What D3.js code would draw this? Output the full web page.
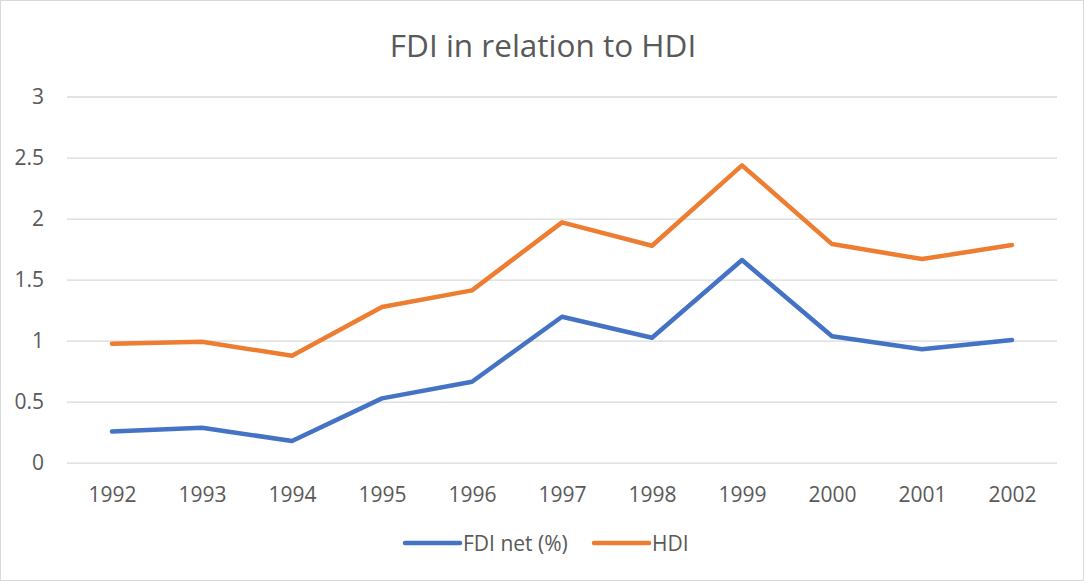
<!DOCTYPE html>
<html>
<head>
<meta charset="utf-8">
<script src="https://cdn.jsdelivr.net/npm/d3@7"></script>
<style>
  body { margin: 0; background: #fff; }
  text { font-family: "Open Sans", Lato, sans-serif; fill: #595959; }
</style>
</head>
<body>
<div id="chart"></div>
<script>
// data
const years = ["1992", "1993", "1994", "1995", "1996", "1997", "1998", "1999", "2000", "2001", "2002"]
const fdiNet = [0.255, 0.287, 0.178, 0.527, 0.663, 1.196, 1.024, 1.66, 1.036, 0.929, 1.005]
const hdi = [0.975, 0.991, 0.876, 1.276, 1.412, 1.969, 1.777, 2.436, 1.791, 1.668, 1.783]
const yTicks = [0, 0.5, 1, 1.5, 2, 2.5, 3]

const series = [
    { name: "FDI net (%)", values: fdiNet, color: "#4472C4" },
    { name: "HDI", values: hdi, color: "#ED7D31" }
]

const width = 1084, height = 581
const plot = { left: 67, right: 1057, top: 96.5, bottom: 462.7 }

const svg = d3.select("#chart").append("svg")
    .attr("width", width)
    .attr("height", height)

// outer chart border
svg.append("rect")
    .attr("x", 0.5).attr("y", 0.5)
    .attr("width", width - 1).attr("height", height - 1)
    .attr("fill", "#fff")
    .attr("stroke", "#d9d9d9")

const x = d3.scalePoint().domain(years).range([plot.left, plot.right]).padding(0.5)
const y = d3.scaleLinear().domain([0, 3]).range([plot.bottom, plot.top])

// title
svg.append("text")
    .attr("x", 543).attr("y", 57)
    .attr("text-anchor", "middle")
    .style("font-size", "31.5px")
    .text("FDI in relation to HDI")

// gridlines + y labels
const yAxis = svg.append("g")
    .attr("transform", "translate(" + plot.left + ",0)")
    .call(d3.axisLeft(y).tickValues(yTicks).tickSize(-(plot.right - plot.left)).tickPadding(23).tickFormat(d3.format("")))
yAxis.select(".domain").remove()
yAxis.selectAll("line").attr("stroke", "#d9d9d9").attr("stroke-width", 1.3)
yAxis.selectAll("text").style("font-size", "21px").attr("fill", "#595959")

// x labels
const xAxis = svg.append("g")
    .attr("transform", "translate(0," + plot.bottom + ")")
    .call(d3.axisBottom(x).tickSize(0).tickPadding(24))
xAxis.select(".domain").remove()
xAxis.selectAll("text").style("font-size", "21px").attr("fill", "#595959")

// lines
const line = d3.line()
    .x((d, i) => x(years[i]))
    .y(d => y(d))

series.forEach(s => {
    svg.append("path")
        .datum(s.values)
        .attr("d", line)
        .attr("fill", "none")
        .attr("stroke", s.color)
        .attr("stroke-width", 4.5)
        .attr("stroke-linecap", "round")
        .attr("stroke-linejoin", "round")
})

// legend
const legendX = [405, 594]
series.forEach((s, i) => {
    const g = svg.append("g").attr("transform", "translate(" + legendX[i] + ",543)")
    g.append("line")
        .attr("x1", 0).attr("x2", 55)
        .attr("stroke", s.color)
        .attr("stroke-width", 4.5)
        .attr("stroke-linecap", "round")
    g.append("text")
        .attr("x", 58).attr("y", 7.5)
        .style("font-size", "21px")
        .text(s.name)
})
</script>
</body>
</html>
